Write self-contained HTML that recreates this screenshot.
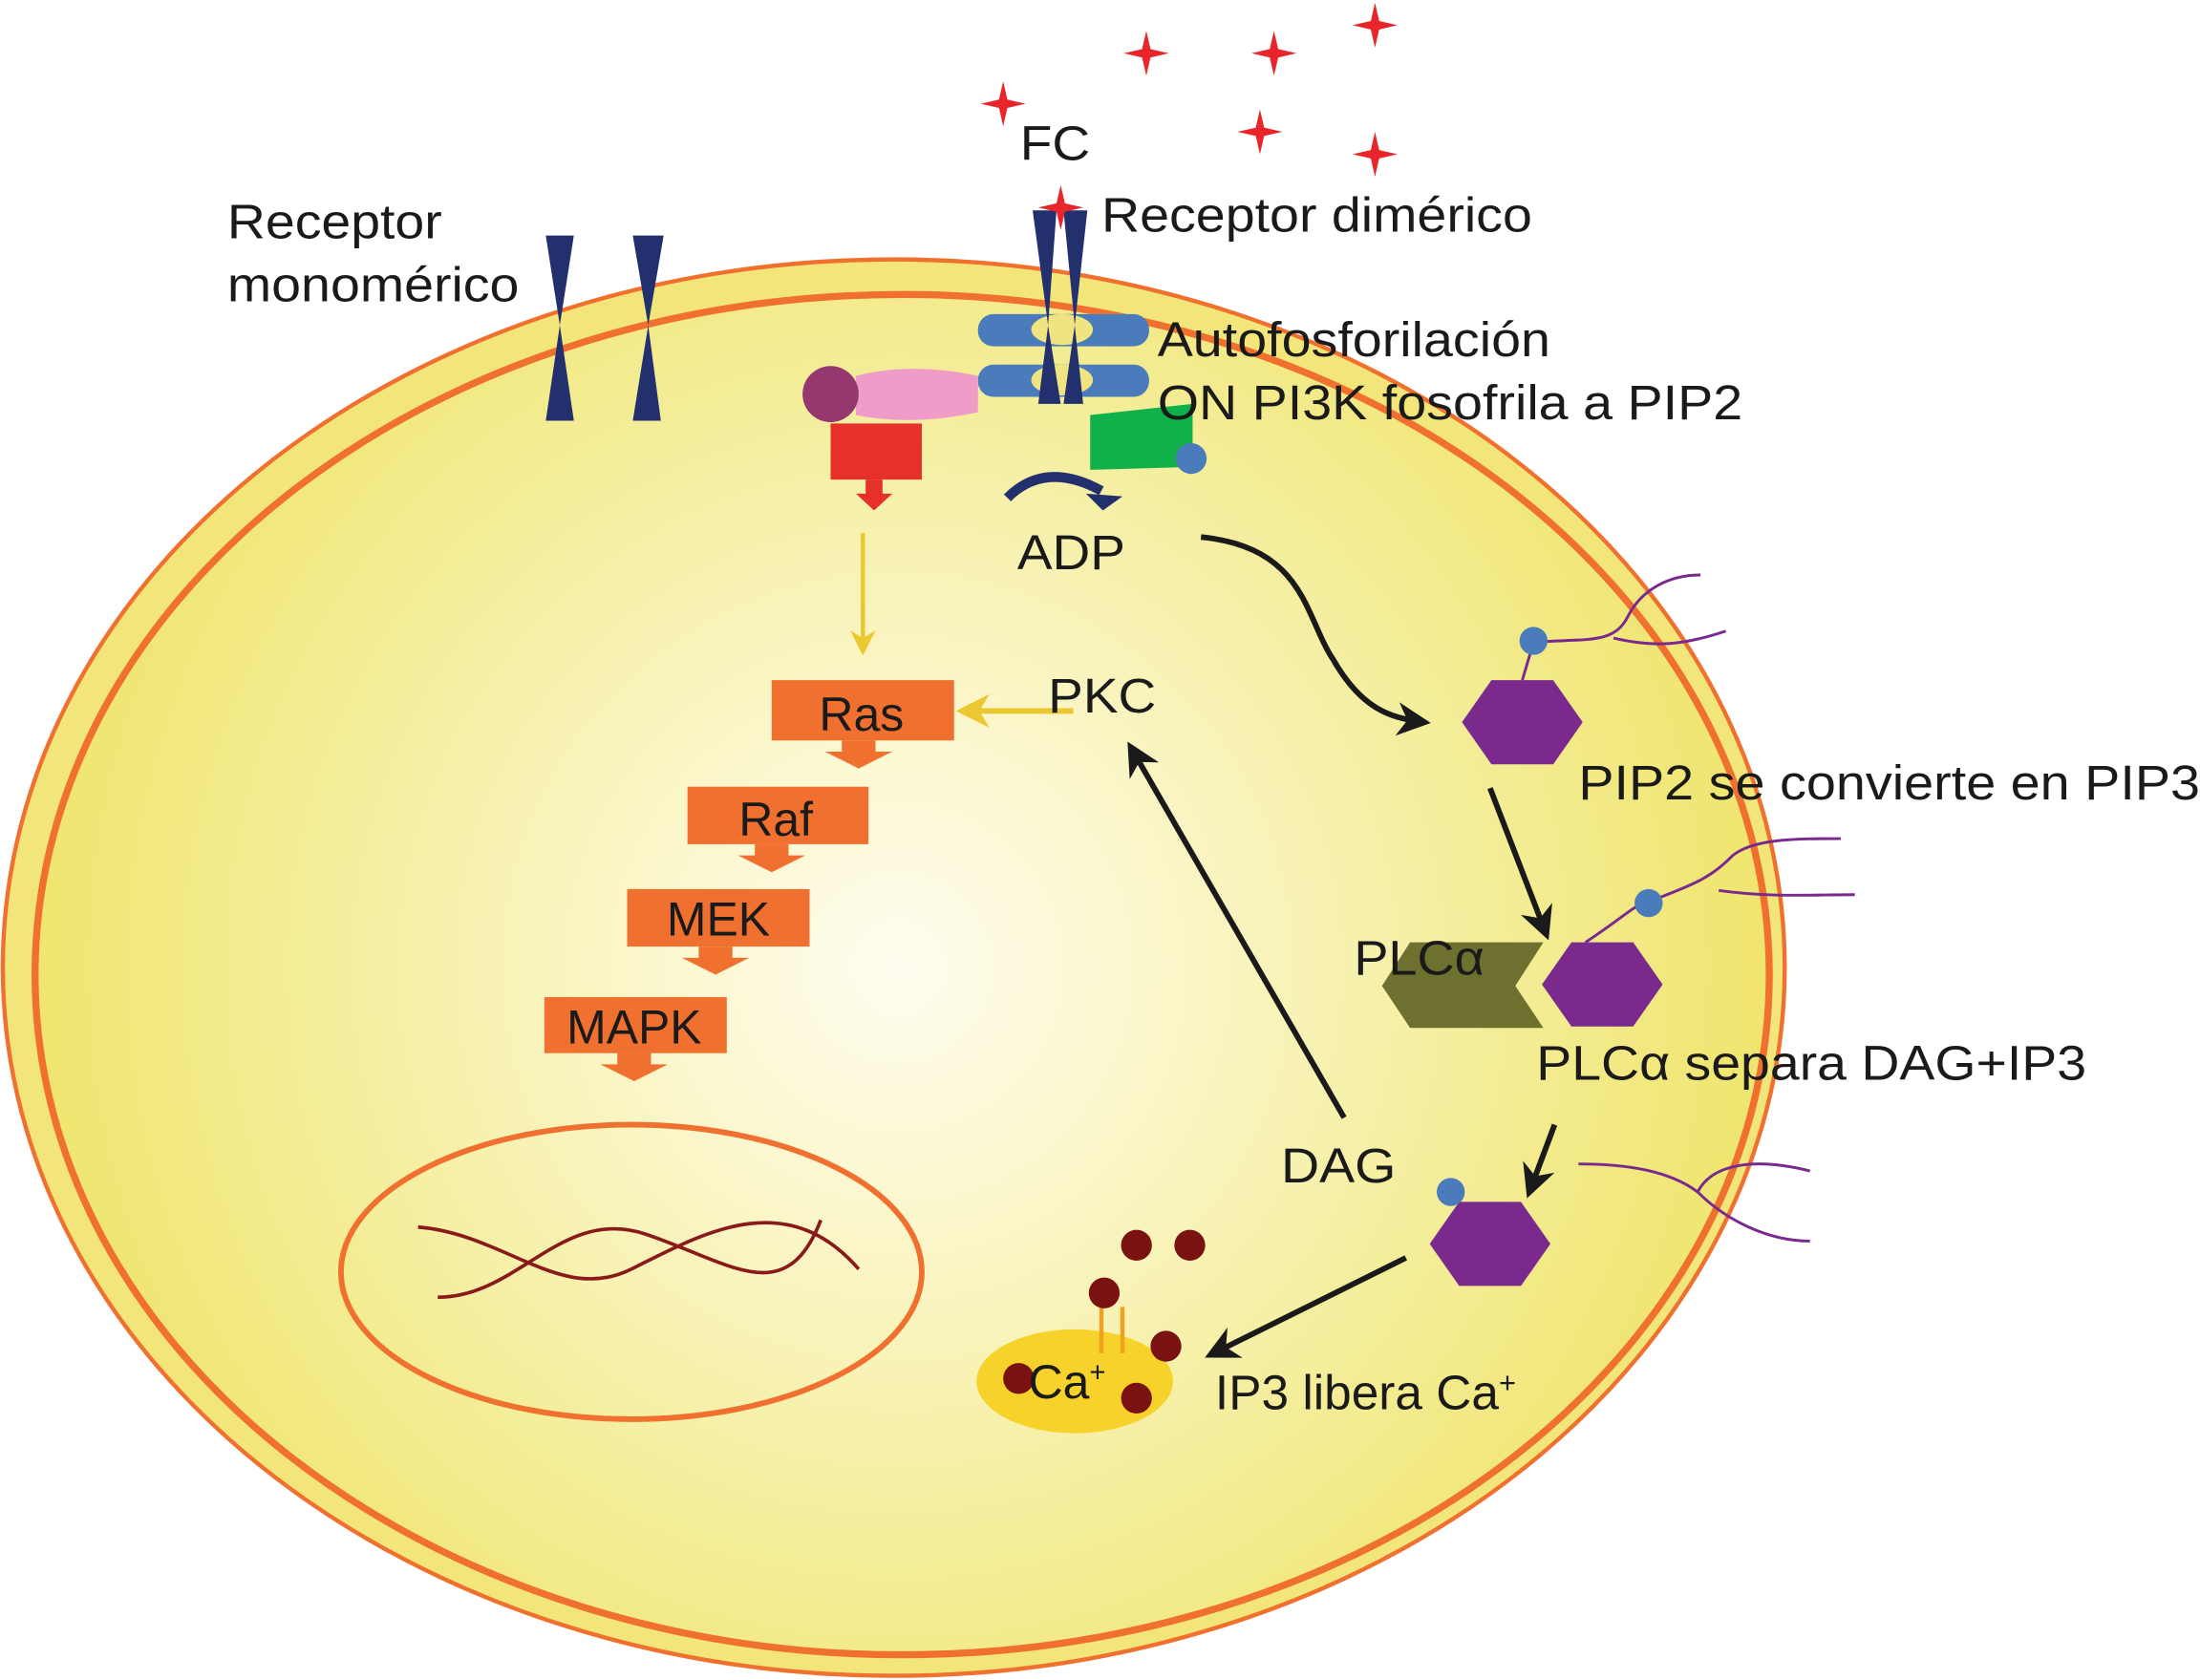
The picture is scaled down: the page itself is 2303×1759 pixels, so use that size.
<!DOCTYPE html>
<html><head><meta charset="utf-8"><style>
html,body{margin:0;padding:0;background:#fff}
svg{display:block}
text{font-family:"Liberation Sans",sans-serif;fill:#1a1a1a}
</style></head><body>
<svg width="2303" height="1759" viewBox="0 0 1568 1198" preserveAspectRatio="none" xmlns="http://www.w3.org/2000/svg">
<defs>
<radialGradient id="g" cx="640" cy="690" r="640" gradientUnits="userSpaceOnUse">
<stop offset="0" stop-color="#fffdf0"/><stop offset="0.55" stop-color="#f6f0a8"/><stop offset="1" stop-color="#efe46a"/>
</radialGradient>
<marker id="ab" viewBox="0 0 10 10" refX="8" refY="5" markerWidth="6" markerHeight="6" orient="auto"><path d="M0,0 L10,5 L0,10 L3,5z" fill="#1a1a1a"/></marker>
<marker id="ay" viewBox="0 0 10 10" refX="8" refY="5" markerWidth="6" markerHeight="6" orient="auto"><path d="M0,0 L10,5 L0,10 L3,5z" fill="#ecc830"/></marker>
<g id="star"><path d="M0,-16 L3,-3 L16,0 L3,3 L0,16 L-3,3 L-16,0 L-3,-3z" fill="#e8252a"/></g>
<g id="hex"><polygon points="-43,0 -22,-30 22,-30 43,0 22,30 -22,30" fill="#7a2a8c"/></g>
<g id="oarr"><polygon points="-12,0 12,0 12,8 24,8 0,20 -24,8 -12,8" fill="#f07030"/></g>
</defs>
<ellipse cx="637" cy="690" rx="635" ry="505" fill="#f2e67a" stroke="#f07030" stroke-width="3"/>
<ellipse cx="643" cy="695" rx="618" ry="485" fill="url(#g)" stroke="#f07030" stroke-width="5"/>
<ellipse cx="450" cy="907" rx="207" ry="105" fill="none" stroke="#f07030" stroke-width="4"/>
<path d="M298,875 C360,880 400,930 450,905 S560,845 612,905" fill="none" stroke="#8a1a1a" stroke-width="2.5"/>
<path d="M312,925 C370,925 400,860 460,880 S560,935 585,870" fill="none" stroke="#8a1a1a" stroke-width="2.5"/>
<g fill="#23306e">
<polygon points="389,168 409,168 399,232 409,300 389,300 399,232"/>
<polygon points="451,168 473,168 462,232 471,300 451,300 462,232"/>
</g>
<g fill="#4a7cbb">
<rect x="697" y="224" width="122" height="23" rx="11"/>
<rect x="697" y="260" width="122" height="23" rx="11"/>
</g>
<ellipse cx="757" cy="235" rx="22" ry="11" fill="#f0e480"/>
<ellipse cx="757" cy="271" rx="22" ry="11" fill="#f0e480"/>
<g fill="#23306e">
<polygon points="736,150 753,150 747,232 756,288 740,288 747,232"/>
<polygon points="758,150 775,150 766,232 772,288 758,288 766,232"/>
</g>
<path d="M610,268 Q650,258 697,268 L697,294 Q650,304 610,296z" fill="#f09cc8"/>
<circle cx="592" cy="281" r="20" fill="#953870"/>
<rect x="592" y="302" width="65" height="40" fill="#e8302a"/>
<polygon points="617,342 629,342 629,352 636,352 623,364 610,352 617,352" fill="#e8302a"/>
<polygon points="777,296 850,288 850,333 777,335" fill="#10b04a"/>
<circle cx="849" cy="327" r="11" fill="#4a7cbb"/>
<path d="M718,355 Q745,328 785,350" fill="none" stroke="#23306e" stroke-width="7"/>
<polygon points="774,352 800,354 786,364" fill="#23306e"/>
<use href="#star" x="817" y="38"/><use href="#star" x="908" y="38"/><use href="#star" x="980" y="18"/>
<use href="#star" x="715" y="74"/><use href="#star" x="898" y="94"/><use href="#star" x="980" y="110"/>
<use href="#star" x="756" y="148"/>
<g font-size="35" lengthAdjust="spacingAndGlyphs">
<text x="162" y="170" textLength="153" lengthAdjust="spacingAndGlyphs">Receptor</text>
<text x="162" y="215" textLength="208" lengthAdjust="spacingAndGlyphs">monomérico</text>
<text x="727" y="114" textLength="50" lengthAdjust="spacingAndGlyphs">FC</text>
<text x="785" y="165" textLength="307" lengthAdjust="spacingAndGlyphs">Receptor dimérico</text>
<text x="825" y="254" textLength="280" lengthAdjust="spacingAndGlyphs">Autofosforilación</text>
<text x="825" y="299" textLength="417" lengthAdjust="spacingAndGlyphs">ON PI3K fosofrila a PIP2</text>
<text x="725" y="406" textLength="77" lengthAdjust="spacingAndGlyphs">ADP</text>
</g>
<line x1="615" y1="380" x2="615" y2="464" stroke="#ecc830" stroke-width="3" marker-end="url(#ay)"/>
<line x1="765" y1="507" x2="686" y2="507" stroke="#ecc830" stroke-width="4" marker-end="url(#ay)"/>
<text x="747" y="508" font-size="35" textLength="77" lengthAdjust="spacingAndGlyphs">PKC</text>
<g font-size="34" text-anchor="middle">
<rect x="550" y="485" width="130" height="43" fill="#f07030"/><text x="614" y="521">Ras</text>
<use href="#oarr" x="612" y="528"/>
<rect x="490" y="561" width="129" height="41" fill="#f07030"/><text x="553" y="596">Raf</text>
<use href="#oarr" x="550" y="602"/>
<rect x="447" y="634" width="130" height="41" fill="#f07030"/><text x="512" y="667">MEK</text>
<use href="#oarr" x="510" y="675"/>
<rect x="388" y="711" width="130" height="40" fill="#f07030"/><text x="452" y="744">MAPK</text>
<use href="#oarr" x="452" y="751"/>
</g>
<path d="M856,383 C930,390 930,440 950,470 C970,505 990,512 1015,515" fill="none" stroke="#1a1a1a" stroke-width="4" marker-end="url(#ab)"/>
<line x1="1062" y1="562" x2="1102" y2="666" stroke="#1a1a1a" stroke-width="4" marker-end="url(#ab)"/>
<line x1="1108" y1="802" x2="1090" y2="850" stroke="#1a1a1a" stroke-width="4" marker-end="url(#ab)"/>
<line x1="1002" y1="897" x2="863" y2="966" stroke="#1a1a1a" stroke-width="4" marker-end="url(#ab)"/>
<line x1="958" y1="797" x2="806" y2="533" stroke="#1a1a1a" stroke-width="4" marker-end="url(#ab)"/>
<use href="#hex" x="1085" y="515"/>
<path d="M1085,485 L1093,458 M1093,458 C1130,455 1150,460 1160,440 C1170,420 1190,410 1212,410 M1150,455 C1180,462 1200,460 1230,450" fill="none" stroke="#7a2a8c" stroke-width="2"/>
<circle cx="1093" cy="457" r="10" fill="#4a7cbb"/>
<polygon points="985,703 1005,672 1100,672 1080,703 1100,733 1005,733" fill="#6e7030"/>
<text x="965" y="695" font-size="35" textLength="93" lengthAdjust="spacingAndGlyphs">PLCα</text>
<use href="#hex" x="1142" y="702"/>
<path d="M1130,672 C1160,652 1165,645 1175,643 M1175,643 C1210,630 1220,625 1235,610 C1250,598 1280,598 1312,598 M1225,635 C1260,640 1290,638 1322,638" fill="none" stroke="#7a2a8c" stroke-width="2"/>
<circle cx="1175" cy="644" r="10" fill="#4a7cbb"/>
<use href="#hex" x="1062" y="887"/>
<path d="M1125,830 C1160,830 1190,835 1210,850 C1230,870 1260,885 1290,885 M1210,850 C1220,830 1250,825 1290,835" fill="none" stroke="#7a2a8c" stroke-width="2"/>
<circle cx="1034" cy="850" r="10" fill="#4a7cbb"/>
<text x="1125" y="570" font-size="35" textLength="443" lengthAdjust="spacingAndGlyphs">PIP2 se convierte en PIP3</text>
<text x="1095" y="770" font-size="35" textLength="392" lengthAdjust="spacingAndGlyphs">PLCα separa DAG+IP3</text>
<text x="913" y="843" font-size="35" textLength="82" lengthAdjust="spacingAndGlyphs">DAG</text>
<ellipse cx="766" cy="985" rx="70" ry="37" fill="#f6d22a"/>
<line x1="785" y1="932" x2="785" y2="965" stroke="#f0a020" stroke-width="3"/>
<line x1="800" y1="932" x2="800" y2="965" stroke="#f0a020" stroke-width="3"/>
<g fill="#7a1212">
<circle cx="810" cy="888" r="11"/><circle cx="848" cy="888" r="11"/><circle cx="787" cy="922" r="11"/>
<circle cx="831" cy="960" r="11"/><circle cx="726" cy="983" r="11"/><circle cx="810" cy="997" r="11"/>
</g>
<text x="733" y="997" font-size="34">Ca<tspan font-size="20" dy="-12">+</tspan></text>
<text x="866" y="1005" font-size="35">IP3 libera Ca<tspan font-size="21" dy="-12">+</tspan></text>
</svg>
</body></html>
